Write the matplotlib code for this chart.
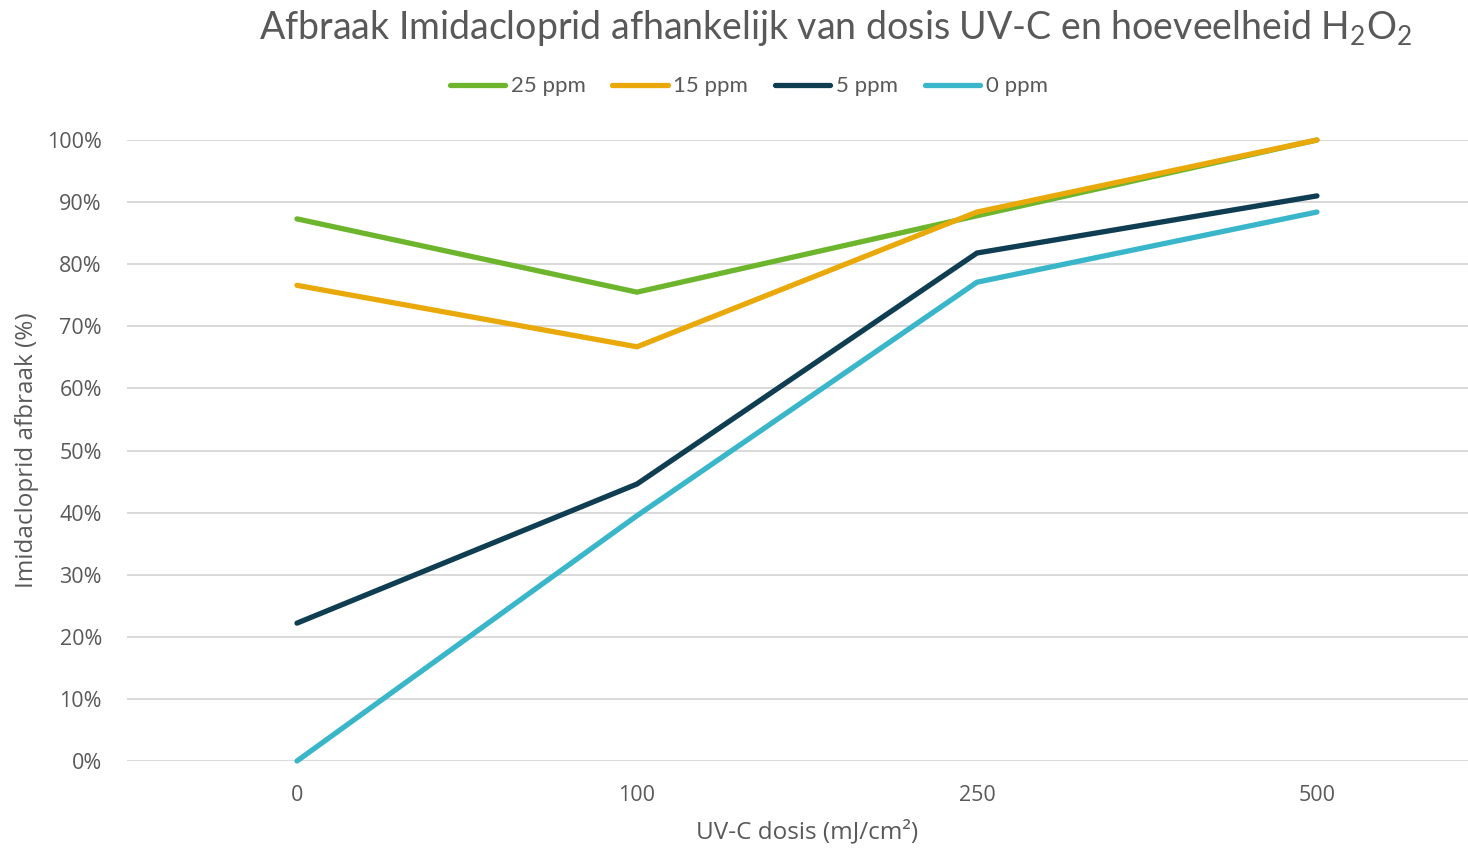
import matplotlib.pyplot as plt
from matplotlib.ticker import PercentFormatter

plt.rcParams['font.family'] = ['Lato', 'DejaVu Sans']
plt.rcParams['mathtext.default'] = 'regular'

doses = ['0', '100', '250', '500']
series_names = ['25 ppm', '15 ppm', '5 ppm', '0 ppm']
ppm25 = [87.3, 75.5, 87.8, 100.0]
ppm15 = [76.6, 66.7, 88.4, 100.0]
ppm5 = [22.2, 44.6, 81.8, 91.0]
ppm0 = [0.0, 39.5, 77.1, 88.4]
colors = ['#6cb52d', '#e9a90a', '#0f3e52', '#3ab6ca']

text_color = '#595959'
axis_font = ['Open Sans', 'DejaVu Sans']

fig = plt.figure(figsize=(14.68, 8.48), dpi=100)
ax = fig.add_axes([0.0865, 0.1026, 0.9264, 0.7323])

x = range(len(doses))
for name, vals, c in zip(series_names, [ppm25, ppm15, ppm5, ppm0], colors):
    ax.plot(x, vals, color=c, lw=3.8, label=name, solid_capstyle='round',
            solid_joinstyle='miter', clip_on=False)

ax.set_xlim(-0.5, 3.5)
ax.set_ylim(0, 100)
ax.set_yticks(range(0, 101, 10))
ax.yaxis.set_major_formatter(PercentFormatter(decimals=0))
ax.set_xticks(list(x))
ax.set_xticklabels(doses)
ax.grid(axis='y', color='#d9d9d9', lw=1.4)
ax.set_axisbelow(True)
for s in ax.spines.values():
    s.set_visible(False)
ax.tick_params(length=0, labelsize=15.5, colors=text_color)
ax.tick_params(axis='y', pad=18)
ax.tick_params(axis='x', pad=17)
for lbl in ax.get_xticklabels() + ax.get_yticklabels():
    lbl.set_family(axis_font)

ax.set_xlabel('UV-C dosis (mJ/cm²)', fontsize=17.5, color=text_color, labelpad=10,
              family=axis_font)
ax.set_ylabel('Imidacloprid afbraak (%)', fontsize=17.5, color=text_color, labelpad=6,
              family=axis_font)

fig.text(0.569, 0.967, 'Afbraak Imidacloprid afhankelijk van dosis UV-C en hoeveelheid H$_2$O$_2$',
         ha='center', va='center', fontsize=27, color=text_color)

leg = fig.legend(loc='center', bbox_to_anchor=(0.51, 0.898), ncol=4, frameon=False,
                 fontsize=16, handlelength=2.5, handletextpad=0.25, columnspacing=1.2)
for t in leg.get_texts():
    t.set_color(text_color)

fig.savefig('out.png', dpi=100)
